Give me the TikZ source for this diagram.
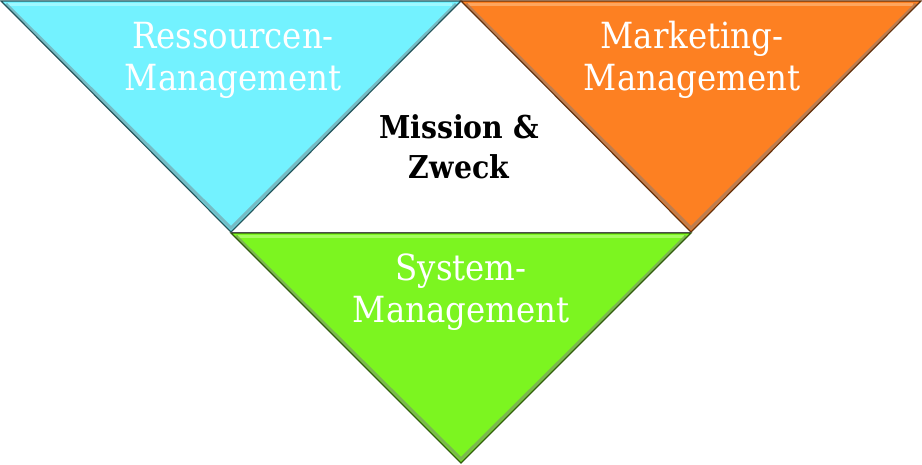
\documentclass[tikz,border=0pt]{standalone}
\usepackage{fontspec}
\setmainfont{DejaVu Serif Condensed}
\definecolor{cyanfill}{RGB}{115,242,255}
\definecolor{cyanedge}{RGB}{60,140,150}
\definecolor{cyanlight}{RGB}{170,250,255}
\definecolor{orangefill}{RGB}{253,128,34}
\definecolor{orangeedge}{RGB}{140,70,20}
\definecolor{orangelight}{RGB}{255,175,110}
\definecolor{greenfill}{RGB}{124,245,32}
\definecolor{greenedge}{RGB}{70,130,20}
\definecolor{greenlight}{RGB}{175,255,110}
\tikzset{
  tri/.style={line width=1.2pt, line join=miter},
  bevel/.style={line width=3pt, line join=miter, opacity=0.8},
  whitelabel/.style={text=white, align=center, font=\fontsize{36}{42}\selectfont},
  blacklabel/.style={text=black, align=center, font=\bfseries\fontsize{31.5}{40}\selectfont},
}
\begin{document}
\begin{tikzpicture}[x=1pt,y=-1pt]
\useasboundingbox (0,0) rectangle (922,465);
% vertices
\coordinate (LTL) at (1,1);
\coordinate (LTR) at (461,1);
\coordinate (LB) at (231,232);
\coordinate (RTL) at (461,1);
\coordinate (RTR) at (921,1);
\coordinate (RB) at (691,232);
\coordinate (GTL) at (231,233);
\coordinate (GTR) at (691,233);
\coordinate (GB) at (461,463);
% white middle triangle
\fill[white] (LB) -- (RB) -- (LTR) -- cycle;
% cyan
\fill[cyanfill] (LTL) -- (LTR) -- (LB) -- cycle;
\draw[bevel,cyanlight] (8,5) -- (452,5);
\draw[bevel,cyanedge!70] (6,4) -- (231,228) -- (456,4);
\draw[tri,cyanedge!60!black] (LTL) -- (LTR) -- (LB) -- cycle;
% orange
\fill[orangefill] (RTL) -- (RTR) -- (RB) -- cycle;
\draw[bevel,orangelight] (468,5) -- (913,5);
\draw[bevel,orangeedge!70] (466,4) -- (691,228) -- (916,4);
\draw[tri,orangeedge!70!black] (RTL) -- (RTR) -- (RB) -- cycle;
% green
\fill[greenfill] (GTL) -- (GTR) -- (GB) -- cycle;
\draw[bevel,greenlight] (238,237) -- (684,237);
\draw[bevel,greenedge!70] (236,236) -- (461,459) -- (686,236);
\draw[tri,greenedge!70!black] (GTL) -- (GTR) -- (GB) -- cycle;
\draw[line width=1pt, black!70] (GTL) -- (GTR);
% labels
\node[whitelabel] (res) at (233,60) {Ressourcen-\\Management};
\node[whitelabel] (mar) at (692,60) {Marketing-\\Management};
\node[whitelabel] (sys) at (461,292) {System-\\Management};
\node[blacklabel] (mis) at (459,147) {Mission \&\\Zweck};
\end{tikzpicture}
\end{document}
